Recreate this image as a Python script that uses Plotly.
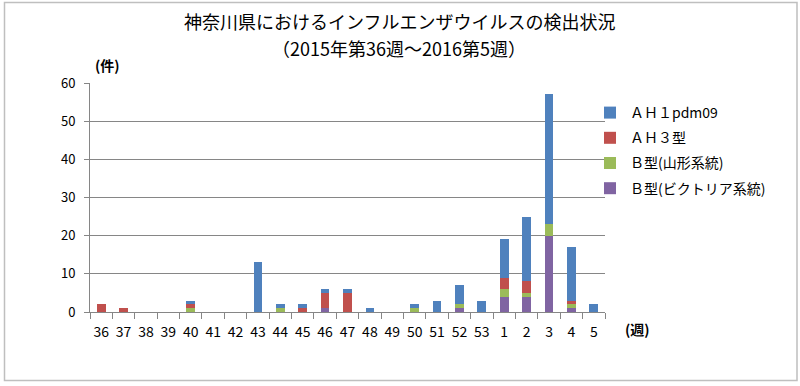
import plotly.graph_objects as go

weeks = ["36","37","38","39","40","41","42","43","44","45","46","47","48","49","50","51","52","53","1","2","3","4","5"]
ah1pdm09 = [0,0,0,0,1,0,0,13,1,1,1,1,1,0,1,3,5,3,10,17,34,14,2]
ah3 =      [2,1,0,0,1,0,0,0,0,1,4,5,0,0,0,0,0,0,3,3,0,1,0]
b_yamagata=[0,0,0,0,1,0,0,0,1,0,0,0,0,0,1,0,1,0,2,1,3,1,0]
b_victoria=[0,0,0,0,0,0,0,0,0,0,1,0,0,0,0,0,1,0,4,4,20,1,0]

names = ["Ｂ型(ビクトリア系統)", "Ｂ型(山形系統)", "ＡＨ３型", "ＡＨ１pdm09"]
colors = ["#8064A2", "#9BBB59", "#C0504D", "#4F81BD"]
series = [b_victoria, b_yamagata, ah3, ah1pdm09]
title_lines = ["神奈川県におけるインフルエンザウイルスの検出状況", "（2015年第36週～2016第5週）"]

FONT = "Noto Sans CJK JP"
fig = go.Figure()
for i, (n, c, v) in enumerate(zip(names, colors, series)):
    fig.add_trace(go.Bar(x=weeks, y=v, name=n, legendgroup=n, legendrank=len(names) - i,
                         marker=dict(color=c, line=dict(width=0))))

L, R, T, B = 90, 605, 83, 312
W, H = R - L, B - T
def px(x): return (x - L) / W
def py(y): return (B - y) / H

fig.update_layout(
    width=800, height=386,
    margin=dict(l=L, r=800 - R, t=T, b=386 - B, autoexpand=False),
    barmode="stack", bargap=0.61,
    plot_bgcolor="white", paper_bgcolor="white",
    font=dict(family=FONT, size=13, color="#000000"),
    showlegend=True,
    legend=dict(traceorder="grouped", x=px(590), y=py(97), xanchor="left", yanchor="top",
                font=dict(family=FONT, size=14), itemwidth=30, tracegroupgap=4,
                bgcolor="rgba(0,0,0,0)"),
    xaxis=dict(type="category", showgrid=False, showline=True, linecolor="#868686",
               ticks="outside", tickson="boundaries", ticklen=6, tickcolor="#868686",
               tickangle=0, automargin=False, ticklabelstandoff=7,
               tickfont=dict(size=14, family=FONT)),
    yaxis=dict(range=[0, 60], dtick=10, showgrid=True, gridcolor="#868686",
               showline=True, linecolor="#868686", ticks="outside", ticklen=5,
               tickcolor="#868686", zeroline=False, automargin=False, ticklabelstandoff=6,
               tickfont=dict(size=13, family=FONT)),
    shapes=[dict(type="rect", xref="paper", yref="paper",
                 x0=px(4.5), x1=px(797), y0=py(380.5), y1=py(2.5),
                 line=dict(color="#BFBFBF", width=1.5), fillcolor="rgba(0,0,0,0)", layer="below")],
    annotations=[
        dict(text=title_lines[0], xref="paper", yref="paper", x=px(399), y=py(21), showarrow=False,
             font=dict(family=FONT, size=18), xanchor="center", yanchor="middle"),
        dict(text=title_lines[1], xref="paper", yref="paper", x=px(399), y=py(48), showarrow=False,
             font=dict(family=FONT, size=18), xanchor="center", yanchor="middle"),
        dict(text="<b>(件)</b>", xref="paper", yref="paper", x=px(107), y=py(65), showarrow=False,
             font=dict(family=FONT, size=14), xanchor="center", yanchor="middle"),
        dict(text="<b>(週)</b>", xref="paper", yref="paper", x=px(637), y=py(329), showarrow=False,
             font=dict(family=FONT, size=14), xanchor="center", yanchor="middle"),
    ],
)
fig.write_html("out.html", config={"displayModeBar": False},
               post_script="document.body.style.margin='0';")
